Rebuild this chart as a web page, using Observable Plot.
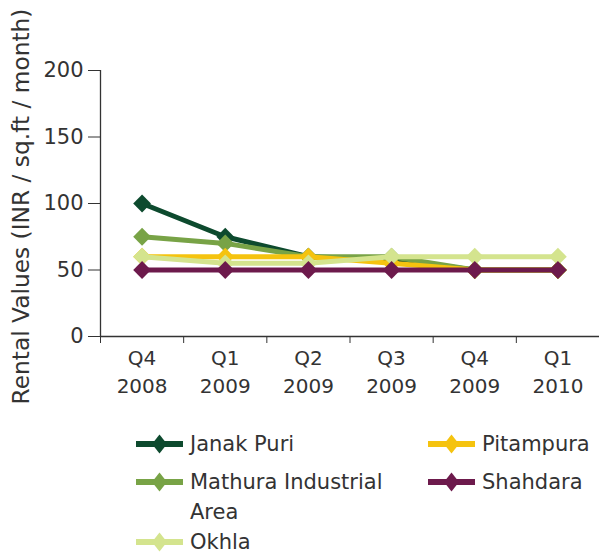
<!DOCTYPE html>
<html>
<head>
<meta charset="utf-8">
<script src="https://cdn.jsdelivr.net/npm/d3@7"></script>
<script src="https://cdn.jsdelivr.net/npm/@observablehq/plot@0.6"></script>
<style>
  body { margin: 0; background: #fff; font-family: "DejaVu Sans", sans-serif; color: #333; }
  #wrap { position: relative; width: 599px; height: 555px; }
  #legend .item { position: absolute; display: flex; align-items: flex-start; font-size: 21px; line-height: 30px; color: #333; }
  #legend .item svg { flex: none; margin-top: 5px; margin-right: 7px; }
  #legend .label { width: 215px; }
</style>
</head>
<body>
<div id="wrap">
  <div id="chart"></div>
  <div id="legend"></div>
</div>
<script>
// Quarter labels along the x axis
const quarters = ["Q4", "Q1", "Q2", "Q3", "Q4", "Q1"];
const years = ["2008", "2009", "2009", "2009", "2009", "2010"];

// Rental values (INR / sq.ft / month) per location
const janakPuri = [100, 75, 60, 58, 50, 50];
const mathuraIndustrialArea = [75, 70, 60, 60, 50, 50];
const pitampura = [60, 60, 60, 55, 50, 50];
const okhla = [60, 55, 55, 60, 60, 60];
const shahdara = [50, 50, 50, 50, 50, 50];

const regions = ["Janak Puri", "Mathura Industrial Area", "Pitampura", "Okhla", "Shahdara"];
const seriesValues = [janakPuri, mathuraIndustrialArea, pitampura, okhla, shahdara];
const palette = ["#0d4a2e", "#78a346", "#f5c30f", "#d4e48e", "#6d1a4c"];

const yTicks = [0, 50, 100, 150, 200];
const yTitle = "Rental Values (INR / sq.ft / month)";

// Long table: one row per region and quarter
const rows = regions.flatMap((region, r) =>
  seriesValues[r].map((value, i) => ({region, i, value}))
);
const quarterIndex = quarters.map((_, i) => i);
const boundaries = [...quarterIndex.map(i => i - 0.5), quarters.length - 0.5];

const font = "'DejaVu Sans', sans-serif";

const seriesMarks = regions.flatMap(region => {
  const data = rows.filter(d => d.region === region);
  return [
    Plot.line(data, {x: "i", y: "value", stroke: "region", strokeWidth: 5}),
    Plot.dot(data, {x: "i", y: "value", fill: "region", symbol: "diamond2", r: 8})
  ];
});

const chart = Plot.plot({
  width: 599,
  height: 415,
  marginLeft: 100,
  marginRight: 0,
  marginTop: 70,
  marginBottom: 79,
  style: {fontFamily: font, fontSize: "20px", color: "#333", background: "#fff"},
  x: {domain: [-0.5, quarters.length - 0.5]},
  y: {domain: [0, 200]},
  color: {domain: regions, range: palette},
  marks: [
    // y ticks pointing left, with their labels set apart from the axis
    Plot.axisY({ticks: yTicks, tickSize: 12, tickFormat: () => "", label: null}),
    Plot.text(yTicks, {frameAnchor: "left", y: d => d, text: d => String(d), dx: -17,
      textAnchor: "end", fontSize: 21, fill: "#333"}),
    // two-line quarter labels, with tick marks between quarters
    Plot.axisX({ticks: quarterIndex, tickSize: 0, tickPadding: 8, label: null, fontSize: 20,
      tickFormat: i => `${quarters[i]}\n${years[i]}`, lineHeight: 1.42}),
    Plot.axisX({ticks: boundaries, tickSize: 7, tickFormat: () => "", label: null}),
    Plot.ruleY([0], {stroke: "#333", strokeWidth: 1.3}),
    Plot.ruleX([-0.5], {stroke: "#333", strokeWidth: 1.3}),
    Plot.text([yTitle], {frameAnchor: "left", dx: -79, dy: 3, rotate: -90, fontSize: 23.3,
      fill: "#333", textAnchor: "middle"}),
    ...seriesMarks
  ]
});
document.getElementById("chart").appendChild(chart);

// Legend below the chart
const legendLayout = [
  {region: "Janak Puri", left: 136, center: 444},
  {region: "Pitampura", left: 428, center: 444},
  {region: "Mathura Industrial Area", left: 136, center: 482},
  {region: "Shahdara", left: 428, center: 482},
  {region: "Okhla", left: 136, center: 542}
];
const legend = document.getElementById("legend");
for (const {region, left, center} of legendLayout) {
  const color = palette[regions.indexOf(region)];
  const item = document.createElement("div");
  item.className = "item";
  item.style.left = left + "px";
  item.style.top = (center - 15) + "px";
  item.innerHTML = `<svg width="47" height="20" viewBox="0 0 47 20">
      <line x1="0" x2="47" y1="10" y2="10" stroke="${color}" stroke-width="6"/>
      <path d="M23.5,0.5 L31,10 L23.5,19.5 L16,10 Z" fill="${color}"/>
    </svg><span class="label"></span>`;
  item.querySelector(".label").textContent = region;
  legend.appendChild(item);
}
</script>
</body>
</html>
